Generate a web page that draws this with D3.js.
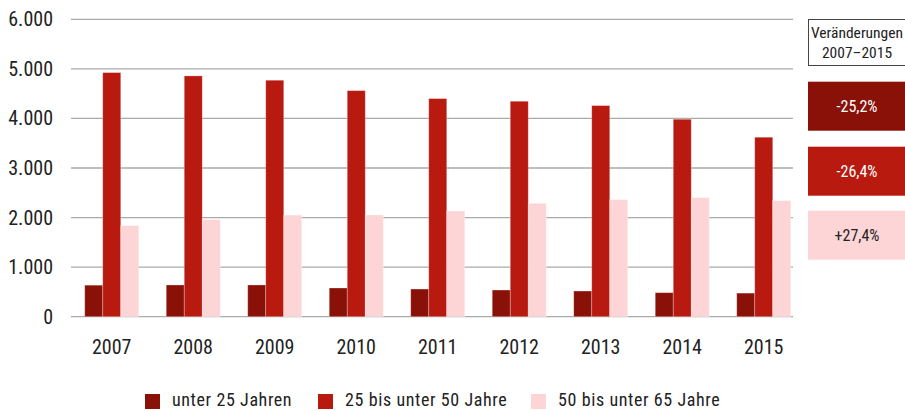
<!DOCTYPE html>
<html><head><meta charset="utf-8">
<script src="https://cdn.jsdelivr.net/npm/d3@7"></script>
<style>
body{margin:0;background:#fff;}
svg{display:block;font-family:"Liberation Sans Narrow","Roboto Condensed","Arial Narrow",sans-serif;}
</style></head>
<body><svg id="c" width="905" height="411"></svg>
<script>
const years = ["2007","2008","2009","2010","2011","2012","2013","2014","2015"];
const seriesNames = ["unter 25 Jahren","25 bis unter 50 Jahre","50 bis unter 65 Jahre"];
const under25 = [636,640,640,579,558,538,518,485,476];
const from25to50 = [4925,4858,4771,4561,4400,4347,4259,3984,3621];
const from50to65 = [1837,1958,2050,2052,2133,2288,2361,2402,2341];
const changes = ["-25,2%","-26,4%","+27,4%"];
const yTicks = [0,1000,2000,3000,4000,5000,6000];
const colors = ["#8a1108","#b81a10","#fdd5d6"];
const changeText = ["#fff","#fff","#222"];

const svg = d3.select("#c");
const x = d3.scaleBand().domain(years).range([71,804.5]).paddingInner(0.337).paddingOuter(0.1685);
const y = d3.scaleLinear().domain([0,6000]).range([316.7,19.3]);
const fmt = v => d3.format(",")(v).replace(/,/g,".");

// gridlines
svg.append("g").selectAll("line").data(yTicks).join("line")
  .attr("x1",71).attr("x2",793).attr("y1",d=>y(d)).attr("y2",d=>y(d))
  .attr("stroke","#aaa").attr("stroke-width",1.3);

// y labels
svg.append("g").selectAll("text").data(yTicks).join("text")
  .attr("x",53).attr("y",d=>y(d)+7).attr("text-anchor","end")
  .attr("font-size",20).attr("fill","#222").text(fmt);

const series = [under25, from25to50, from50to65];
const xs = d3.scaleBand().domain([0,1,2]).range([0,x.bandwidth()]);
const g = svg.append("g");
series.forEach((s,i)=>{
  g.selectAll(null).data(s).join("rect")
    .attr("x",(d,j)=>x(years[j])+xs(i))
    .attr("y",d=>y(d)).attr("width",xs.bandwidth())
    .attr("height",d=>y(0)-y(d)).attr("fill",colors[i])
    .attr("stroke","rgba(255,255,255,0.35)").attr("stroke-width",0.8);
});

// x labels
svg.append("g").selectAll("text").data(years).join("text")
  .attr("x",d=>x(d)+x.bandwidth()/2).attr("y",354).attr("text-anchor","middle")
  .attr("font-size",20).attr("fill","#222").text(d=>d);

// change boxes
const bx = 808, bw = 100;
const hdr = svg.append("g");
hdr.append("rect").attr("x",bx+0.5).attr("y",19.5).attr("width",bw).attr("height",46)
  .attr("fill","#fff").attr("stroke","#444").attr("stroke-width",1);
hdr.append("text").attr("x",bx+49).attr("y",38).attr("text-anchor","middle").attr("font-size",15.5).attr("fill","#222").text("Veränderungen");
hdr.append("text").attr("x",bx+49).attr("y",58).attr("text-anchor","middle").attr("font-size",15.5).attr("fill","#222").text("2007–2015");
const boxY = [81.7,146.7,210.7];
changes.forEach((c,i)=>{
  svg.append("rect").attr("x",bx).attr("y",boxY[i]).attr("width",bw).attr("height",49).attr("fill",colors[i]);
  svg.append("text").attr("x",bx+49).attr("y",boxY[i]+30).attr("text-anchor","middle")
    .attr("font-size",16).attr("fill",changeText[i]).text(c);
});

// legend
const legX = [145,318,531];
seriesNames.forEach((n,i)=>{
  svg.append("rect").attr("x",legX[i]).attr("y",394).attr("width",15).attr("height",15).attr("fill",colors[i]);
  svg.append("text").attr("x",legX[i]+27).attr("y",406).attr("font-size",18)
    .attr("letter-spacing",0.6).attr("fill","#222").text(n);
});
</script></body></html>
